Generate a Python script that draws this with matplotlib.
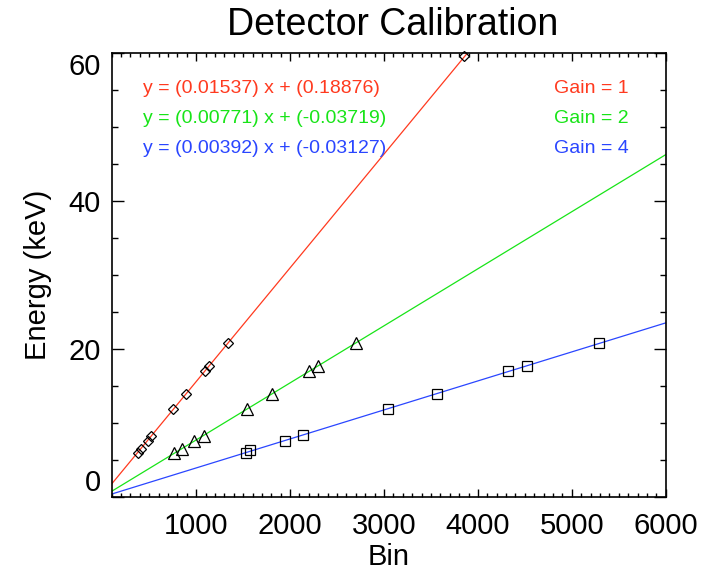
import matplotlib.pyplot as plt
from matplotlib.ticker import MultipleLocator

plt.rcParams["font.family"] = ["Liberation Sans", "DejaVu Sans"]

# fit coefficients shown in the legend text
slopes = [0.01537, 0.00771, 0.00392]
intercepts = [0.18876, -0.03719, -0.03127]
gains = [1, 2, 4]

# measured peaks (bin, energy) per gain setting
bins_gain1 = [376, 412, 487, 519, 752, 894, 1096, 1141, 1337, 3851]
energy_gain1 = [5.9, 6.4, 7.5, 8.2, 11.9, 13.9, 17.0, 17.7, 20.8, 59.5]
bins_gain2 = [759, 844, 979, 1078, 1545, 1811, 2198, 2300, 2700]
energy_gain2 = [5.9, 6.4, 7.5, 8.2, 11.9, 13.9, 17.0, 17.7, 20.8]
bins_gain4 = [1535, 1577, 1942, 2141, 3044, 3564, 4319, 4525, 5293]
energy_gain4 = [5.9, 6.3, 7.5, 8.3, 11.9, 13.9, 17.0, 17.7, 20.8]

colors = ["#ff3a1f", "#18e418", "#2a46ff"]
markers = ["D", "^", "s"]
marker_sizes = [5.5, 8, 7]

x_range = [100, 6000]

fig = plt.figure(figsize=(7.1, 5.71), dpi=100)
ax = fig.add_axes([0.1573, 0.1301, 0.7803, 0.7776])

points = [(bins_gain1, energy_gain1), (bins_gain2, energy_gain2), (bins_gain4, energy_gain4)]
for i, (b, e) in enumerate(points):
    fit = [slopes[i] * x + intercepts[i] for x in x_range]
    ax.plot(x_range, fit, color=colors[i], lw=0.9, zorder=2)
    ax.plot(b, e, linestyle="none", marker=markers[i], ms=marker_sizes[i],
            mfc="none", mec="black", mew=0.9, zorder=3, clip_on=False)

ax.set_xlim(x_range)
ax.set_ylim(0, 60)
ax.xaxis.set_minor_locator(MultipleLocator(100))
ax.yaxis.set_major_locator(MultipleLocator(20))
ax.yaxis.set_minor_locator(MultipleLocator(5))
ax.set_xticks([1000, 2000, 3000, 4000, 5000, 6000])
ax.tick_params(axis="both", which="both", direction="in", top=True, right=True,
               width=1.0, labelsize=21)
ax.tick_params(axis="x", which="major", length=6, pad=11)
ax.tick_params(axis="x", which="minor", length=3)
ax.tick_params(axis="y", which="major", length=8.5, pad=8)
ax.tick_params(axis="y", which="minor", length=4)
for s in ax.spines.values():
    s.set_linewidth(1.2)

# IDL keeps the end labels inside the axis span
fig.canvas.draw()
for lab in ax.get_yticklabels():
    if lab.get_text() == "60":
        lab.set_va("top")
    elif lab.get_text() == "0":
        lab.set_va("bottom")

ax.set_ylabel("Energy (keV)", fontsize=21, labelpad=12)
fig.text(0.5473, 0.0105, "Bin", fontsize=21, ha="center", va="baseline")
fig.text(0.5535, 0.9387, "Detector Calibration", fontsize=27, ha="center", va="baseline")

baselines = [0.9086, 0.8423, 0.7748]
for i in range(3):
    ax.text(0.057, baselines[i],
            "y = (%.5f) x + (%.5f)" % (slopes[i], intercepts[i]),
            color=colors[i], fontsize=14, transform=ax.transAxes, va="baseline")
    ax.text(0.9325, baselines[i], "Gain = %d" % gains[i],
            color=colors[i], fontsize=14, transform=ax.transAxes,
            ha="right", va="baseline")

fig.savefig("out.png", dpi=100)
